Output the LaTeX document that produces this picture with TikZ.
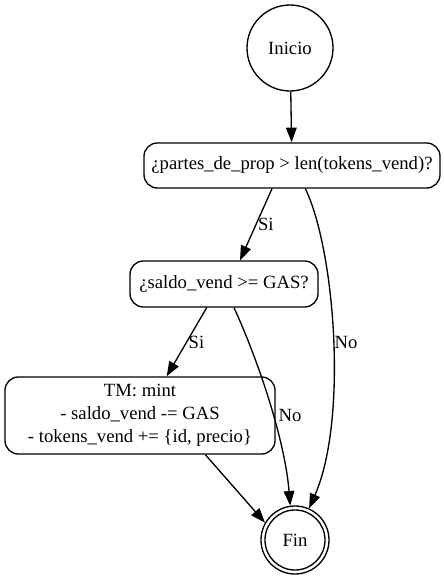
\documentclass[tikz,border=0pt]{standalone}
\usepackage{fontspec}
\setmainfont{Liberation Serif}
\usetikzlibrary{arrows.meta}
\begin{document}
\begin{tikzpicture}[x=0.75pt,y=-0.75pt,
  every node/.style={font=\rmfamily\fontsize{14pt}{17.25pt}\selectfont},
  circ/.style={draw,circle,line width=1pt,inner sep=0pt},
  box/.style={draw,rectangle,rounded corners=10pt,line width=1pt,align=center,inner sep=0pt},
  edge/.style={line width=1pt,-{Triangle[length=11pt,width=8pt]}},
  lbl/.style={inner sep=1pt}]
\useasboundingbox (0,0) rectangle (443,581);
\node[circ,minimum size=64.5pt] (ini) at (290,48) {Inicio};
\node[box,minimum width=222pt,minimum height=33.75pt] (c1) at (292,165.5) {¿partes\_de\_prop > len(tokens\_vend)?};
\node[box,minimum width=141pt,minimum height=34.5pt] (c2) at (224,284) {¿saldo\_vend >= GAS?};
\node[box,minimum width=202.5pt,minimum height=57.75pt] (tm) at (140,415.5) {TM: mint\\- saldo\_vend -= GAS\\- tokens\_vend += \{id, precio\}};
\node[circ,minimum size=51pt] (fin) at (295,540) {Fin};
\draw[line width=1pt] (fin.center) circle[radius=22.5pt];
\draw[edge] (ini) -- (c1);
\draw[edge] ([xshift=-15pt]c1.south) -- node[lbl,right,pos=0.5]{Si} ([xshift=12pt]c2.north);
\draw[edge] ([xshift=10pt]c1.south) .. controls (335,250) and (348,420) .. (fin.66);
\node[lbl] (no1) at (346,342) {No};
\draw[edge] ([xshift=-13pt]c2.south) -- node[lbl,right,pos=0.5]{Si} ([xshift=20pt]tm.north);
\draw[edge] ([xshift=7.5pt]c2.south) .. controls (258,360) and (285,440) .. (fin.98);
\node[lbl] (no2) at (290,415) {No};
\draw[edge] ([xshift=49pt]tm.south) -- (fin.150);
\end{tikzpicture}
\end{document}
